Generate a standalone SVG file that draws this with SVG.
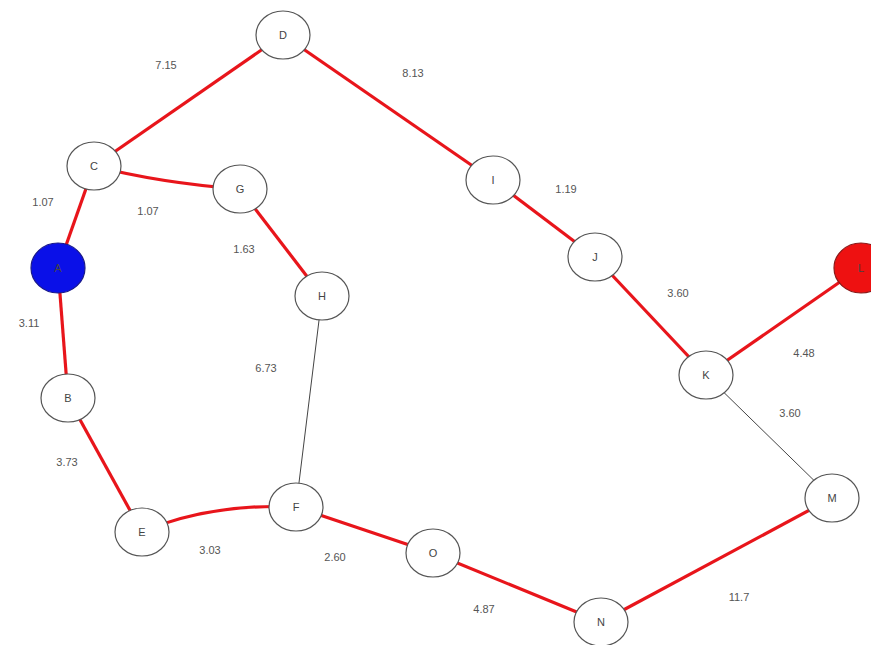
<svg xmlns="http://www.w3.org/2000/svg" width="871" height="645" viewBox="0 0 871 645">
<style>
.n{fill:#fff;stroke:#555;stroke-width:1.2}
.r{fill:none;stroke:#e8151b;stroke-width:3.2}
.t{fill:none;stroke:#444;stroke-width:1}
text{font-family:"Liberation Sans",Arial,sans-serif;font-size:11px;fill:#444;text-anchor:middle}
.w text{font-size:11px;fill:#555}
</style>
<rect width="871" height="645" fill="#fff"/>
<g id="connectors">
<line class="r" x1="58" y1="268" x2="94" y2="166"/>
<line class="r" x1="94" y1="166" x2="283" y2="35"/>
<line class="r" x1="283" y1="35" x2="493" y2="180"/>
<line class="r" x1="493" y1="180" x2="595" y2="257"/>
<line class="r" x1="595" y1="257" x2="706" y2="375"/>
<line class="r" x1="706" y1="375" x2="860" y2="268"/>
<path class="r" d="M94 166 Q160 183 240 189"/>
<line class="r" x1="240" y1="189" x2="322" y2="296"/>
<line class="r" x1="58" y1="268" x2="68" y2="398"/>
<line class="r" x1="68" y1="398" x2="142" y2="532"/>
<path class="r" d="M142 532 Q210 503 296 507"/>
<line class="r" x1="296" y1="507" x2="433" y2="553"/>
<path class="r" d="M433 553 Q510 585 601 622"/>
<line class="r" x1="601" y1="622" x2="832" y2="498"/>
<line class="t" x1="322" y1="296" x2="296" y2="507"/>
<line class="t" x1="706" y1="375" x2="832" y2="498"/>
</g>
<g class="w" id="weights">
<text x="166" y="69">7.15</text>
<text x="413" y="77">8.13</text>
<text x="43" y="206">1.07</text>
<text x="148" y="215">1.07</text>
<text x="244" y="253">1.63</text>
<text x="566" y="193">1.19</text>
<text x="678" y="297">3.60</text>
<text x="29" y="327">3.11</text>
<text x="266" y="372">6.73</text>
<text x="804" y="357">4.48</text>
<text x="790" y="417">3.60</text>
<text x="67" y="466">3.73</text>
<text x="210" y="554">3.03</text>
<text x="335" y="561">2.60</text>
<text x="484" y="613">4.87</text>
<text x="739" y="601">11.7</text>
</g>
<g id="node-A"><ellipse cx="58" cy="268" rx="27" ry="25" fill="#0a10e8" stroke="#1a1a8a" stroke-width="1.2"/><text x="58" y="272" fill="#0a0a70">A</text></g>
<g id="node-L"><ellipse cx="861" cy="268" rx="27" ry="25" fill="#ee1111" stroke="#8a1a1a" stroke-width="1.2"/><text x="861" y="272" fill="#700a0a">L</text></g>
<g id="node-D"><ellipse class="n" cx="283" cy="35" rx="27" ry="24"/><text x="283" y="39">D</text></g>
<g id="node-C"><ellipse class="n" cx="94" cy="166" rx="27" ry="24"/><text x="94" y="170">C</text></g>
<g id="node-G"><ellipse class="n" cx="240" cy="189" rx="27" ry="24"/><text x="240" y="193">G</text></g>
<g id="node-I"><ellipse class="n" cx="493" cy="180" rx="27" ry="24"/><text x="493" y="184">I</text></g>
<g id="node-J"><ellipse class="n" cx="595" cy="257" rx="27" ry="24"/><text x="595" y="261">J</text></g>
<g id="node-H"><ellipse class="n" cx="322" cy="296" rx="27" ry="24"/><text x="322" y="300">H</text></g>
<g id="node-K"><ellipse class="n" cx="706" cy="375" rx="27" ry="24"/><text x="706" y="379">K</text></g>
<g id="node-B"><ellipse class="n" cx="68" cy="398" rx="27" ry="24"/><text x="68" y="402">B</text></g>
<g id="node-M"><ellipse class="n" cx="832" cy="498" rx="27" ry="24"/><text x="832" y="502">M</text></g>
<g id="node-E"><ellipse class="n" cx="142" cy="532" rx="27" ry="24"/><text x="142" y="536">E</text></g>
<g id="node-F"><ellipse class="n" cx="296" cy="507" rx="27" ry="24"/><text x="296" y="511">F</text></g>
<g id="node-O"><ellipse class="n" cx="433" cy="553" rx="27" ry="24"/><text x="433" y="557">O</text></g>
<g id="node-N"><ellipse class="n" cx="601" cy="622" rx="27" ry="24"/><text x="601" y="626">N</text></g>
</svg>
